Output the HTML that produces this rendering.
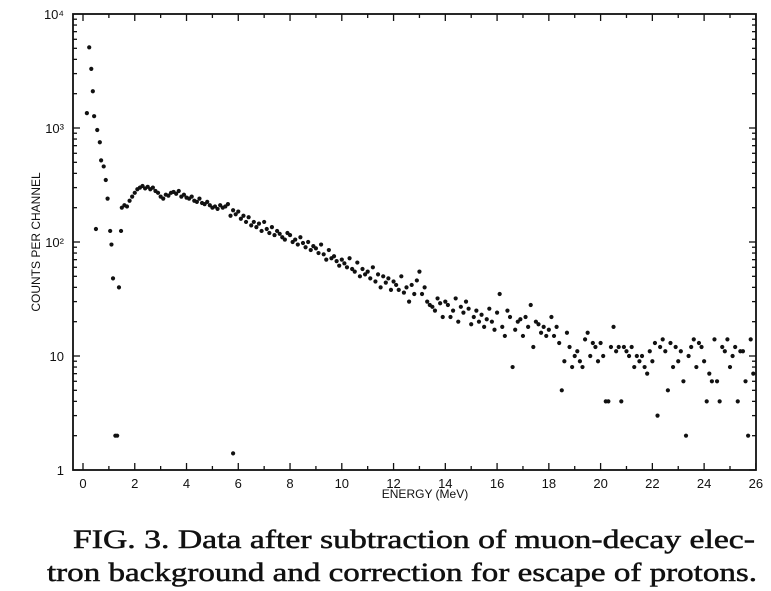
<!DOCTYPE html>
<html><head><meta charset="utf-8"><style>
html,body{margin:0;padding:0;background:#fff;}
svg{display:block;}
</style></head><body>
<svg id="chart" width="771" height="591" viewBox="0 0 771 591" xmlns="http://www.w3.org/2000/svg">
<rect x="0" y="0" width="771" height="591" fill="#fff"/>
<g id="axes"></g>
<g id="marks"></g>
<text x="425" y="498" font-family="Liberation Sans, sans-serif" font-size="12" text-anchor="middle" fill="#111">ENERGY (MeV)</text>
<text transform="translate(40,242) rotate(-90)" font-family="Liberation Sans, sans-serif" font-size="12" text-anchor="middle" fill="#111">COUNTS PER CHANNEL</text>
<text x="73" y="548" textLength="682" lengthAdjust="spacingAndGlyphs" font-family="Liberation Serif, serif" font-size="26" fill="#111" stroke="#111" stroke-width="0.5">FIG. 3.  Data after subtraction of muon-decay elec-</text>
<text x="47" y="581" textLength="710" lengthAdjust="spacingAndGlyphs" font-family="Liberation Serif, serif" font-size="26" fill="#111" stroke="#111" stroke-width="0.5">tron background and correction for escape of protons.</text>
</svg>
<script>
const xTickLabels = ["0","2","4","6","8","10","12","14","16","18","20","22","24","26"];
const yTickLabels = ["1","10","10²","10³","10⁴"];
const peakEnergies = [0.15,0.24,0.32,0.38,0.43,0.5,0.55,0.65,0.7,0.8,0.88,0.95,1.05,1.1,1.16,1.25,1.32,1.39,1.47,5.8];
const peakCounts = [1350,5100,3300,2100,1270,130,960,750,520,460,350,240,125,95,48,2,2,40,125,1.4];
const bumpStart = 1.5;
const bumpStep = 0.1;
const bumpCounts = [
200,210,205,230,250,
270,290,300,310,295,305,290,300,280,270,
250,240,260,255,270,275,265,280,250,260,
245,240,250,230,225,240,220,215,225,210,
200,205,195,210,200,205,215,170,190,175,
185,160,170,150,165,140,150,135,145,125,
150,130,120,135,115,125,118,110,105,120,
115,100,105,95,110,98,90,100,85,92,
88,80,95,78,70,85,72,75,68,62,
70,65,60,72,58,55,66,50,58,52,
55,48,60,45,52,40,50,44,48,38,
45,42,38,50,36,40,30,42,35,46,
55,35,40,30,28,27,25,32,29,22,
30,28,22,25,32,20,27,24,30,26,
19,22,25,20,23,18,21,26,20,17,
24,35,18,15,25,22,8,17,20,21,
15,22,18,28,12,20,19,16,18,15,
17,22,15,18,13,5,9,16,12,8,
10,11,9,8,14,16,10,13,12,9,
13,10,4,4,12,18,11,12,4,12,
11,10,12,8,10,9,10,8,7,11,
9,13,3,12,14,11,5,13,8,12,
9,11,6,2,10,12,14,8,13,12,
9,4,7,6,14,6,4,12,11,14,
8,10,12,4,11,11,6,2,14,7];

const X0=83, XPER=25.88, YB=470, DEC=114, L=73, R=756, T=14;
function xs(e){return X0+e*XPER;}
function ys(c){return YB-Math.log10(c)*DEC;}
const NS="http://www.w3.org/2000/svg";
const axes=document.getElementById('axes');
const marks=document.getElementById('marks');
function mk(tag,attrs,parent){const el=document.createElementNS(NS,tag);for(const k in attrs)el.setAttribute(k,attrs[k]);parent.appendChild(el);return el;}

const frame=mk('rect',{x:L,y:T,width:R-L,height:YB-T,fill:'none',stroke:'#111','stroke-width':1.8},axes);



for(let i=0;i<=26;i++){
  const x=xs(i), len=(i%2===0)?7:4;
  const tb=mk('line',{x1:x,y1:YB,x2:x,y2:YB-len,stroke:'#111','stroke-width':1.3},axes);
  
  
  const tt=mk('line',{x1:x,y1:T,x2:x,y2:T+len,stroke:'#111','stroke-width':1.3},axes);
  
  
}
xTickLabels.forEach((lab,i)=>{
  const t=mk('text',{x:xs(i*2),y:488,'text-anchor':'middle','font-family':'Liberation Sans, sans-serif','font-size':13,fill:'#111'},axes);
  t.textContent=lab;
  
  
});
for(let d=0;d<4;d++){
  for(let m=1;m<=9;m++){
    const y=ys(Math.pow(10,d)*m), len=(m===1)?7:4;
    const a=mk('line',{x1:L,y1:y,x2:L+len,y2:y,stroke:'#111','stroke-width':1.3},axes);
    
    
    const b=mk('line',{x1:R,y1:y,x2:R-len,y2:y,stroke:'#111','stroke-width':1.3},axes);
    
    
  }
}
yTickLabels.forEach((lab,i)=>{
  const t=mk('text',{x:64,y:ys(Math.pow(10,i))+5,'text-anchor':'end','font-family':'Liberation Sans, sans-serif','font-size':13,fill:'#111'},axes);
  t.textContent=lab;
  
  
});

function dot(e,c){
  const d=mk('circle',{cx:xs(e),cy:ys(c),r:2.1,fill:'#111'},marks);
  
  
}
peakEnergies.forEach((e,i)=>dot(e,peakCounts[i]));
bumpCounts.forEach((c,i)=>dot(bumpStart+i*bumpStep,c));
</script>
</body></html>
